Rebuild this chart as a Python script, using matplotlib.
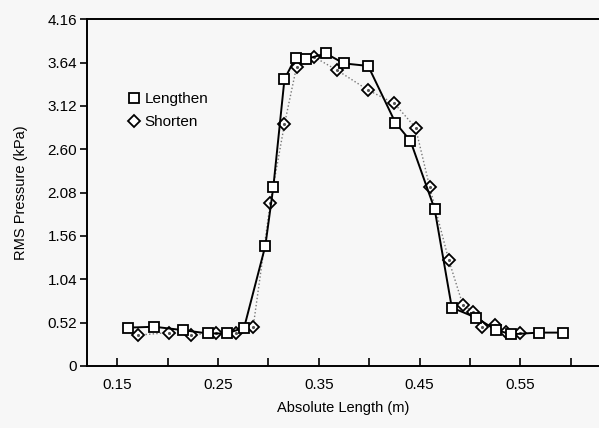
import numpy as np
import matplotlib.pyplot as plt
from matplotlib.lines import Line2D

plt.rcParams['font.family'] = ['Liberation Sans', 'DejaVu Sans']

# Lengthen (squares, solid line)
len_x = [0.161, 0.187, 0.215, 0.240, 0.259, 0.276, 0.297, 0.305, 0.316, 0.327,
         0.337, 0.357, 0.375, 0.399, 0.426, 0.441, 0.465, 0.482, 0.506, 0.526,
         0.541, 0.568, 0.592]
len_y = [0.46, 0.47, 0.43, 0.39, 0.39, 0.46, 1.44, 2.15, 3.44, 3.70,
         3.68, 3.75, 3.63, 3.60, 2.92, 2.70, 1.88, 0.70, 0.58, 0.43,
         0.38, 0.40, 0.40]

# Shorten (diamonds, dotted line)
sho_x = [0.171, 0.201, 0.223, 0.248, 0.268, 0.285, 0.302, 0.316, 0.328, 0.345,
         0.368, 0.399, 0.425, 0.446, 0.460, 0.479, 0.493, 0.503, 0.512, 0.525,
         0.536, 0.550]
sho_y = [0.37, 0.40, 0.37, 0.40, 0.39, 0.47, 1.96, 2.90, 3.59, 3.71,
         3.55, 3.31, 3.15, 2.86, 2.15, 1.27, 0.73, 0.65, 0.47, 0.49,
         0.41, 0.39]

yticks = [0, 0.52, 1.04, 1.56, 2.08, 2.60, 3.12, 3.64, 4.16]
ytick_labels = ['0', '0.52', '1.04', '1.56', '2.08', '2.60', '3.12', '3.64', '4.16']
xticks_major = [0.15, 0.25, 0.35, 0.45, 0.55]
xticks_minor = [0.20, 0.30, 0.40, 0.50, 0.60]

bg = '#f7f7f7'
fig = plt.figure(figsize=(5.99, 4.28), dpi=100, facecolor=bg)
ax = fig.add_axes([0.145, 0.145, 0.855, 0.81], facecolor=bg)

# dotted line for shorten, drawn under the markers
ax.plot(sho_x, sho_y, color='#777777', lw=1.0, ls=(0, (1, 1.6)), zorder=2)
ax.plot(sho_x, sho_y, ls='none', marker='D', ms=6,
        mfc='white', mec='black', mew=1.3, zorder=3)
ax.plot(sho_x, sho_y, ls='none', marker='.', ms=2.5, color='#555555', zorder=4)
ax.plot(len_x, len_y, '-', color='black', lw=1.4, marker='s', ms=7,
        mfc='white', mec='black', mew=1.3, zorder=5)

ax.set_xlim(0.12, 0.628)
ax.set_ylim(0, 4.16)
ax.set_yticks(yticks)
ax.set_yticklabels(ytick_labels)
ax.set_xticks(xticks_major)
ax.set_xticks(xticks_minor, minor=True)
ax.tick_params(axis='y', direction='out', length=5, width=1.2, labelsize=11, pad=2)
ax.tick_params(axis='x', which='both', direction='in', length=6, width=1.2,
               labelsize=11, pad=9)

for s in ['left', 'bottom', 'top']:
    ax.spines[s].set_linewidth(1.4)
ax.spines['right'].set_visible(False)

ax.set_xlabel('Absolute Length (m)', fontsize=10.5, labelpad=6)
ax.set_ylabel('RMS Pressure (kPa)', fontsize=10.5, labelpad=14)

handles = [Line2D([], [], ls='none', marker='s', ms=7, mfc='white', mec='black', mew=1.3),
           Line2D([], [], ls='none', marker='D', ms=6, mfc='white', mec='black', mew=1.3)]
ax.legend(handles, ['Lengthen', 'Shorten'], frameon=False, fontsize=11,
          loc='upper left', bbox_to_anchor=(0.05, 0.83), handletextpad=0.2,
          labelspacing=0.6, handlelength=1.0)

fig.savefig('out.png', dpi=100, facecolor=bg)
